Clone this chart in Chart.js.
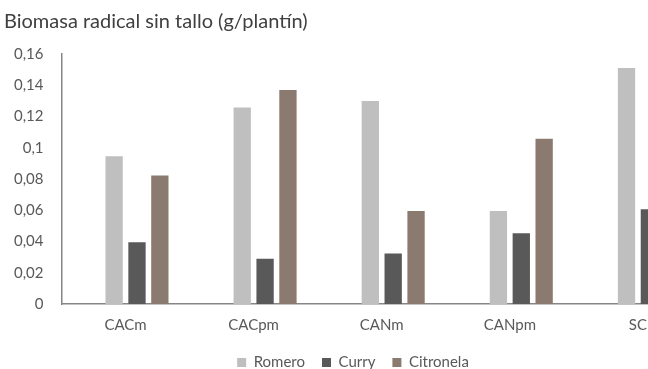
<!DOCTYPE html>
<html lang="es">
<head>
  <meta charset="UTF-8" />
  <title>Biomasa radical sin tallo</title>
  <script src="https://cdn.jsdelivr.net/npm/chart.js"></script>
  <style>
    html, body {
      margin: 0;
      padding: 0;
      background: #ffffff;
      overflow: hidden;
    }
    .wrap {
      width: 730px;
      height: 369px;
    }
  </style>
</head>
<body>
  <div class="wrap">
    <canvas id="chart" width="730" height="369"></canvas>
  </div>

  <script>
    const categories = ['CACm', 'CACpm', 'CANm', 'CANpm', 'SC'];
    const romero = [0.0945, 0.1258, 0.130, 0.0595, 0.151];
    const curry = [0.0395, 0.029, 0.0324, 0.0453, 0.0606];
    const citronela = [0.0822, 0.137, 0.0595, 0.1057, null];
    // empty first slot in each group, as in the original sheet
    const blank = [null, null, null, null, null];
    const yTicks = { min: 0, max: 0.16, step: 0.02 };

    const fontFamily = 'Lato, "Open Sans", sans-serif';
    const textColor = '#595959';

    const barStyle = { categoryPercentage: 0.714, barPercentage: 0.757 };

    new Chart(document.getElementById('chart'), {
      type: 'bar',
      data: {
        labels: categories,
        datasets: [
          { label: '', data: blank, backgroundColor: 'rgba(0,0,0,0)', ...barStyle },
          { label: 'Romero', data: romero, backgroundColor: '#bfbfbf', ...barStyle },
          { label: 'Curry', data: curry, backgroundColor: '#595959', ...barStyle },
          { label: 'Citronela', data: citronela, backgroundColor: '#8b7a6f', ...barStyle }
        ]
      },
      options: {
        responsive: false,
        animation: false,
        layout: { padding: { left: 4, right: 28, top: 4, bottom: -11 } },
        scales: {
          x: {
            grid: { display: false },
            border: { display: true, color: '#868686', width: 1.5 },
            ticks: { color: textColor, font: { family: fontFamily, size: 15 }, padding: 4 }
          },
          y: {
            min: yTicks.min,
            max: yTicks.max,
            grid: { display: false },
            border: { display: true, color: '#868686', width: 1.5 },
            ticks: {
              stepSize: yTicks.step,
              color: textColor,
              padding: 10,
              font: { family: fontFamily, size: 15 },
              callback: v => String(+v.toFixed(2)).replace('.', ',')
            }
          }
        },
        plugins: {
          title: {
            display: true,
            text: 'Biomasa radical sin tallo (g/plantín)',
            align: 'start',
            color: '#404040',
            font: { family: fontFamily, size: 20, weight: 'normal' },
            padding: { top: 6, bottom: 20 }
          },
          legend: {
            position: 'bottom',
            labels: {
              color: textColor,
              font: { family: fontFamily, size: 15 },
              boxWidth: 9,
              boxHeight: 9,
              padding: 17,
              filter: item => item.text !== ''
            }
          },
          tooltip: { enabled: false }
        }
      }
    });
  </script>
</body>
</html>
